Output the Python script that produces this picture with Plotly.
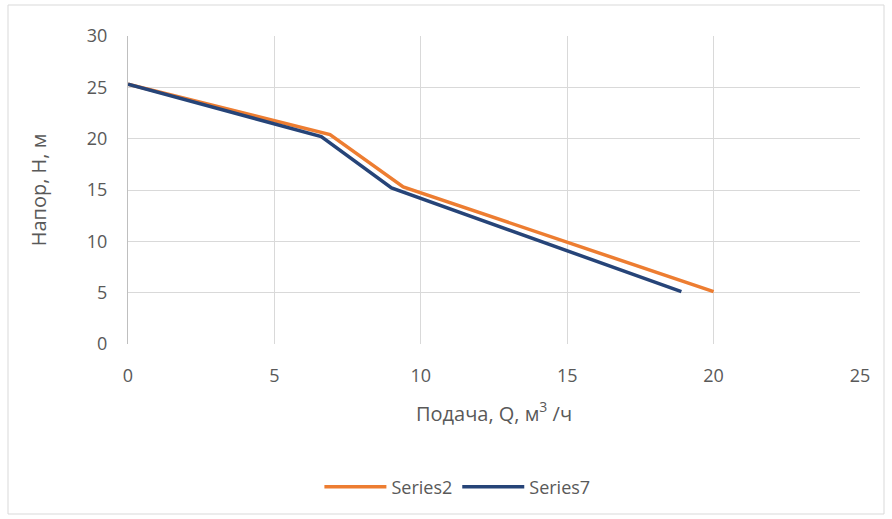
import plotly.graph_objects as go

# Pump head curves: flow Q (m3/h) vs head H (m)
q_series2 = [0, 6.9, 9.4, 20.0]
h_series2 = [25.3, 20.4, 15.3, 5.1]
q_series7 = [0, 6.6, 9.0, 18.9]
h_series7 = [25.3, 20.2, 15.2, 5.1]

x_ticks = [0, 5, 10, 15, 20, 25]
y_ticks = [0, 5, 10, 15, 20, 25, 30]

W, H = 892, 519
ML, MR, MT, MB = 128, 32, 36, 175
font_family = "Open Sans, Liberation Sans, sans-serif"
grey_text = "#595959"

fig = go.Figure()
fig.add_trace(go.Scatter(x=q_series2, y=h_series2, mode="lines", name="Series2",
                         line=dict(color="#ED7D31", width=3.5)))
fig.add_trace(go.Scatter(x=q_series7, y=h_series7, mode="lines", name="Series7",
                         line=dict(color="#264478", width=3.5)))

# outer chart border
pw = W - ML - MR
ph = H - MT - MB
def px_x(p):
    return (p - ML) / pw
def px_y(p):
    return (H - MB - p) / ph
fig.add_shape(type="rect", xref="paper", yref="paper",
              x0=px_x(8), x1=px_x(884), y0=px_y(514), y1=px_y(5),
              line=dict(color="#d9d9d9", width=1), fillcolor="rgba(0,0,0,0)")

fig.update_layout(
    width=W, height=H,
    margin=dict(l=ML, r=MR, t=MT, b=MB),
    paper_bgcolor="white", plot_bgcolor="white",
    font=dict(family=font_family, size=18, color=grey_text),
    showlegend=True,
    legend=dict(orientation="h", x=0.45, xanchor="center", y=px_y(487), yanchor="middle",
                font=dict(size=18, color=grey_text), itemwidth=62,
                tracegroupgap=0),
    xaxis=dict(range=[0, 25], tickvals=x_ticks, showgrid=True, gridcolor="#d9d9d9",
               gridwidth=1, zeroline=False, showline=False, ticks="",
               ticklabelstandoff=19,
               tickfont=dict(size=18, color=grey_text),
               title=dict(text="Подача, Q, м<sup>3</sup> /ч",
                          font=dict(size=20, color=grey_text), standoff=20)),
    yaxis=dict(range=[0, 30], tickvals=y_ticks, showgrid=True, gridcolor="#d9d9d9",
               gridwidth=1, zeroline=False, showline=True, linecolor="#bfbfbf",
               ticks="", ticklabelstandoff=16, tickfont=dict(size=18, color=grey_text),
               title=dict(text="Напор, Н, м", font=dict(size=20, color=grey_text),
                          standoff=34)),
)

fig.write_html("out.html")
